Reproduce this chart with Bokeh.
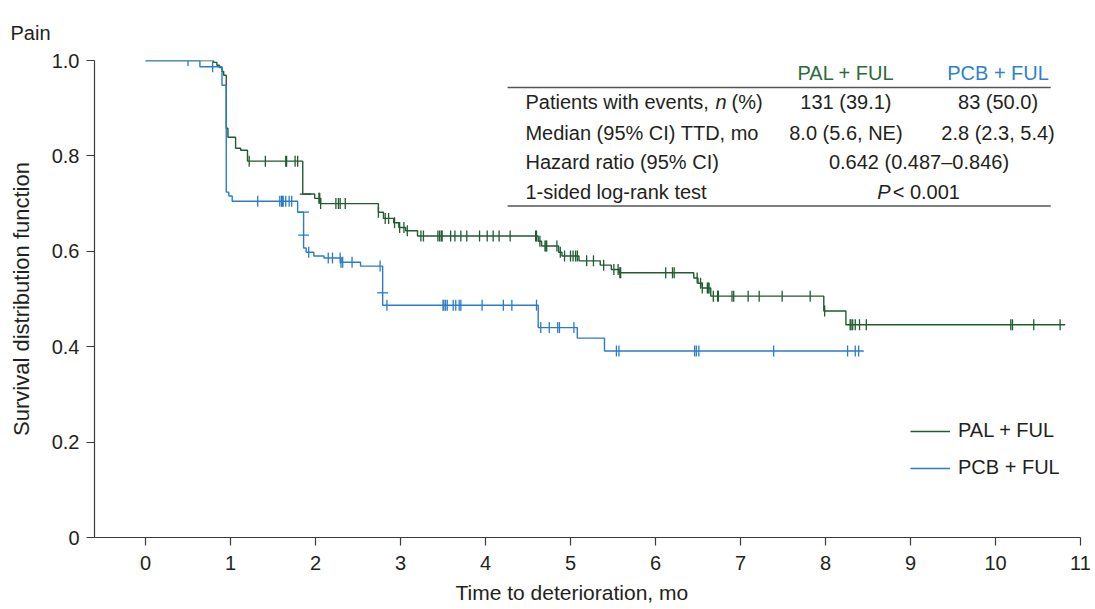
import numpy as np
from bokeh.plotting import figure
from bokeh.models import Range1d, FixedTicker, Label, Legend, LegendItem, Title
from bokeh.embed import file_html
from bokeh.resources import INLINE

# ---------------- data ----------------
# Kaplan-Meier step functions: time (months) and survival after each step; last entry = end of follow-up
pal_t = [0, 0.80, 0.84, 0.87, 0.90, 0.92, 0.95, 0.97, 1.06, 1.12, 1.20, 1.85, 1.99, 2.06,
         2.74, 2.80, 2.92, 2.98, 3.06, 3.20, 4.62, 4.66, 4.86, 4.90, 5.10, 5.35, 5.48, 5.57,
         6.45, 6.50, 6.55, 6.65, 7.98, 8.24, 10.82]
pal_s = [1.0, 0.996, 0.99, 0.985, 0.977, 0.969, 0.858, 0.839, 0.816, 0.812, 0.789, 0.72, 0.711, 0.70,
         0.682, 0.669, 0.66, 0.65, 0.643, 0.632, 0.621, 0.611, 0.598, 0.59, 0.58, 0.571, 0.562, 0.555,
         0.544, 0.533, 0.523, 0.506, 0.475, 0.446, 0.446]

pcb_t = [0, 0.64, 0.90, 0.95, 0.98, 1.02, 1.79, 1.86, 1.89, 1.98, 2.10, 2.30, 2.53, 2.79,
         4.62, 5.08, 5.40, 8.45]
pcb_s = [1.0, 0.987, 0.948, 0.724, 0.716, 0.705, 0.682, 0.607, 0.598, 0.59, 0.586, 0.577, 0.569, 0.487,
         0.44, 0.418, 0.391, 0.391]

# censoring times
pal_cens = [1.22, 1.41, 1.65, 1.66, 1.76, 1.79, 2.04, 2.05, 2.06, 2.24, 2.27, 2.29, 2.35, 2.74,
            2.82, 2.86, 2.93, 2.99, 3.04, 3.08, 3.24, 3.27, 3.44, 3.46, 3.48, 3.49, 3.59, 3.64,
            3.71, 3.78, 3.93, 4.02, 4.09, 4.16, 4.29, 4.59, 4.60, 4.64, 4.70, 4.71, 4.72, 4.84,
            4.88, 4.93, 5.00, 5.03, 5.06, 5.08, 5.19, 5.27, 5.39, 5.51, 5.56, 5.58, 5.59, 6.12,
            6.20, 6.22, 6.49, 6.53, 6.55, 6.61, 6.62, 6.63, 6.68, 6.73, 6.74, 6.90, 6.92, 7.09,
            7.22, 7.49, 7.82, 7.99, 8.29, 8.30, 8.32, 8.35, 8.40, 8.48, 10.18, 10.20, 10.45, 10.76]
pcb_cens = [0.50, 0.79, 1.32, 1.58, 1.60, 1.61, 1.62, 1.65, 1.69, 1.72, 1.92, 2.15, 2.20, 2.29,
            2.30, 2.32, 2.43, 2.76, 2.84, 3.50, 3.51, 3.53, 3.55, 3.62, 3.65, 3.69, 3.71, 3.96,
            4.21, 4.31, 4.60, 4.65, 4.75, 4.85, 4.87, 5.04, 5.54, 5.57, 6.46, 6.48, 6.51, 7.39,
            8.26, 8.35, 8.39]
# censor marks drawn on vertical drops (horizontal ticks)
pal_hmark_t = [1.88]
pal_hmark_s = [0.72]
pcb_hmark_t = [1.86, 1.86, 2.79]
pcb_hmark_s = [0.682, 0.634, 0.513]

x_ticks = list(range(0, 12))
y_ticks = [0, 0.2, 0.4, 0.6, 0.8, 1.0]
y_tick_labels = ["0", "0.2", "0.4", "0.6", "0.8", "1.0"]

series_names = ["PAL + FUL", "PCB + FUL"]
row_labels = ["Patients with events, ", "Median (95% CI) TTD, mo", "Hazard ratio (95% CI)", "1-sided log-rank test"]
pal_col = ["131 (39.1)", "8.0 (5.6, NE)"]
pcb_col = ["83 (50.0)", "2.8 (2.3, 5.4)"]
hr_text = "0.642 (0.487\u20130.846)"
p_text = "< 0.001"
x_title = "Time to deterioration, mo"
y_title = "Survival distribution function"
panel_title = "Pain"

# ---------------- style ----------------
FONT = "Liberation Sans"
FS = "20px"
GREEN = "#1f5c30"
BLUE = "#2a7cc7"
GREEN_TXT = "#2b6b39"
BLUE_TXT = "#2f80d0"
TXT = "#231f20"
AX = "#3a3a3a"


def km_at(t_arr, s_arr, ts):
    idx = np.searchsorted(np.asarray(t_arr), np.asarray(ts), side="right") - 1
    return np.asarray(s_arr)[idx]


p = figure(width=1095, height=609, output_backend="svg", toolbar_location=None,
           x_range=Range1d(-0.6, 11.0), y_range=Range1d(0, 1.0),
           min_border_left=94, min_border_right=15, min_border_top=60, min_border_bottom=71)
p.outline_line_color = None
p.grid.visible = False
p.background_fill_color = "white"
p.border_fill_color = "white"

# panel title
p.title.text = panel_title
p.title.align = "left"
p.title.vertical_align = "top"
p.title.offset = -84
p.title.standoff = 29
p.title.text_font = FONT
p.title.text_font_size = FS
p.title.text_font_style = "normal"
p.title.text_color = TXT

# axes
p.xaxis.ticker = FixedTicker(ticks=x_ticks)
p.yaxis.ticker = FixedTicker(ticks=y_ticks)
p.yaxis.major_label_overrides = {t: l for t, l in zip(y_ticks, y_tick_labels)}
p.yaxis.axis_label = y_title
for ax in (p.xaxis, p.yaxis):
    ax.axis_line_color = AX
    ax.axis_line_width = 1.2
    ax.major_tick_line_color = AX
    ax.major_tick_line_width = 1.2
    ax.major_tick_in = 0
    ax.major_tick_out = 8
    ax.minor_tick_line_color = None
    ax.major_label_text_font = FONT
    ax.major_label_text_font_size = FS
    ax.major_label_text_color = TXT
    ax.axis_label_text_font = FONT
    ax.axis_label_text_font_style = "normal"
    ax.axis_label_text_color = TXT
p.yaxis.axis_label_text_font_size = "22px"
p.xaxis.major_label_standoff = 10
p.yaxis.major_label_standoff = 7
p.yaxis.axis_label_standoff = 15

# x-axis title as a bottom title (so it can sit off-centre like the reference)
p.add_layout(Title(text=x_title, align="left", offset=361, standoff=12,
                   text_font=FONT, text_font_size="21px", text_font_style="normal",
                   text_color=TXT), "below")

# curves
pal_line = p.step(pal_t, pal_s, mode="after", line_color=GREEN, line_width=1.4)
pcb_line = p.step(pcb_t, pcb_s, mode="after", line_color=BLUE, line_width=1.4)

# censor marks
p.scatter(pal_cens, km_at(pal_t, pal_s, pal_cens), marker="dash", angle=np.pi / 2,
          size=11, line_color=GREEN, line_width=1.3)
p.scatter(pcb_cens, km_at(pcb_t, pcb_s, pcb_cens), marker="dash", angle=np.pi / 2,
          size=11, line_color=BLUE, line_width=1.3)
p.scatter(pal_hmark_t, pal_hmark_s, marker="dash", size=11, line_color=GREEN, line_width=1.3)
p.scatter(pcb_hmark_t, pcb_hmark_s, marker="dash", size=11, line_color=BLUE, line_width=1.3)

# legend
legend = Legend(items=[LegendItem(label=series_names[0], renderers=[pal_line]),
                       LegendItem(label=series_names[1], renderers=[pcb_line])],
                location=(816, 58), orientation="vertical",
                glyph_width=40, glyph_height=20, label_standoff=8, spacing=14,
                padding=0, margin=0, border_line_color=None, background_fill_alpha=0,
                label_text_font=FONT, label_text_font_size=FS, label_text_color=TXT)
p.add_layout(legend)


# ---------------- table ----------------
def tlabel(x, y, text, align="left", color=TXT, style="normal", size=FS):
    p.add_layout(Label(x=x, y=y, text=text, text_align=align, text_baseline="middle",
                       text_font=FONT, text_font_size=size, text_color=color,
                       text_font_style=style))

x_row = 4.47
x_c1 = 8.24
x_c2 = 10.03
x_mid = 9.10
y_head, y_r1, y_r2, y_r3, y_r4 = 0.973, 0.912, 0.847, 0.787, 0.724

tlabel(x_c1, y_head, series_names[0], "center", GREEN_TXT)
tlabel(x_c2, y_head, series_names[1], "center", BLUE_TXT)
p.segment(x0=[4.26, 4.26], y0=[0.9435, 0.695], x1=[10.65, 10.65], y1=[0.9435, 0.695],
          line_color="#555555", line_width=1.4)

tlabel(x_row, y_r1, row_labels[0])
tlabel(6.706, y_r1, "n", style="italic")
tlabel(6.894, y_r1, "(%)")
tlabel(x_c1, y_r1, pal_col[0], "center")
tlabel(x_c2, y_r1, pcb_col[0], "center")

tlabel(x_row, y_r2, row_labels[1])
tlabel(x_c1, y_r2, pal_col[1], "center")
tlabel(x_c2, y_r2, pcb_col[1], "center")

tlabel(x_row, y_r3, row_labels[2])
tlabel(x_mid, y_r3, hr_text, "center")

tlabel(x_row, y_r4, row_labels[3])
tlabel(8.61, y_r4, "P", style="italic")
tlabel(8.79, y_r4, p_text)

open("out.html", "w").write(file_html(p, INLINE))
